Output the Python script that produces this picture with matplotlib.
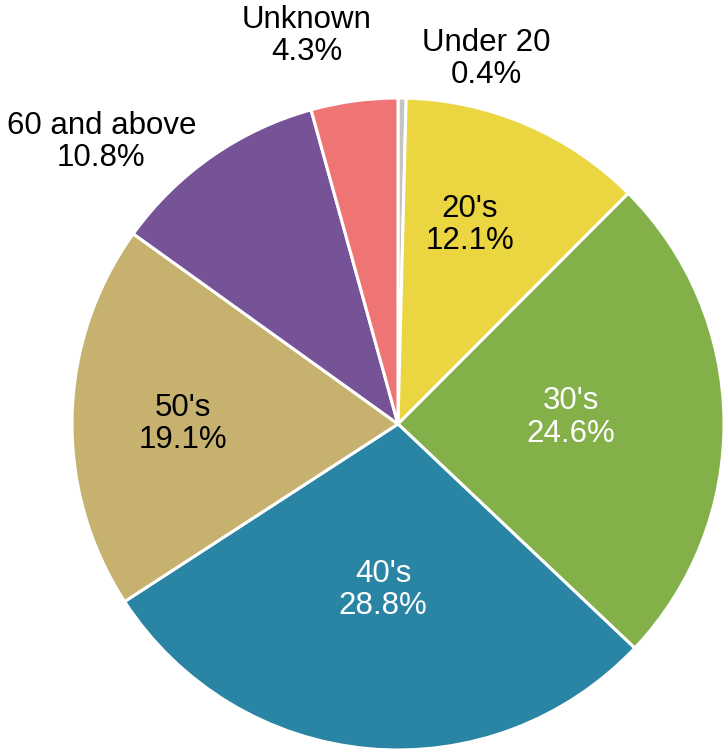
import matplotlib
matplotlib.use("Agg")
import matplotlib.pyplot as plt

categories = ["Under 20", "20's", "30's", "40's", "50's", "60 and above", "Unknown"]
shares = [0.4, 12.1, 24.6, 28.8, 19.1, 10.8, 4.3]
colors = ["#c4c4c4", "#ebd642", "#84b04a", "#2a84a4", "#c6b16e", "#765397", "#ef7474"]
text_colors = ["black", "black", "white", "white", "black", "black", "black"]
# label anchor points in pie-radius units (center = 0, 0)
label_pos = [(0.27, 1.12), (0.22, 0.61), (0.53, 0.02), (-0.046, -0.51),
             (-0.66, 0.0), (-0.91, 0.865), (-0.28, 1.19)]

plt.rcParams["font.family"] = ["Liberation Sans", "DejaVu Sans"]

W, H = 725, 749
fig = plt.figure(figsize=(W / 100, H / 100), dpi=100)
cx, cy, r = 398, 424, 326
ax = fig.add_axes([(cx - r) / W, (H - cy - r) / H, 2 * r / W, 2 * r / H])
ax.pie(shares, colors=colors, startangle=90, counterclock=False, radius=1,
       wedgeprops=dict(edgecolor="white", linewidth=2.2))
for name, val, (x, y), tc in zip(categories, shares, label_pos, text_colors):
    ax.text(x, y, f"{name}\n{val:.1f}%", ha="center", va="center",
            fontsize=22.5, color=tc, linespacing=1.1)
ax.set_xlim(-1, 1)
ax.set_ylim(-1, 1)
ax.set_aspect("equal")
ax.axis("off")
fig.savefig("out.png", dpi=100)
